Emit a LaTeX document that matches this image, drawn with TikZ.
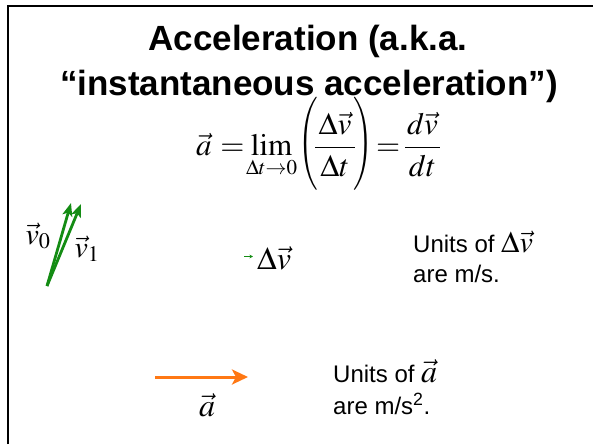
\documentclass[tikz,border=0pt]{standalone}
\usepackage{mathptmx}
\usepackage[no-math]{fontspec}
\newfontfamily\arial{Liberation Sans}
\usetikzlibrary{arrows.meta}
\definecolor{vgreen}{RGB}{20,140,20}
\definecolor{aorange}{RGB}{255,120,20}
\newcommand{\tallstrut}{\rule[-32pt]{0pt}{80pt}}
\newcommand{\lparen}{\raisebox{3pt}{\scalebox{0.8}[1]{$\left(\tallstrut\right.$}}}
\newcommand{\rparen}{\raisebox{3pt}{\scalebox{0.8}[1]{$\left.\tallstrut\right)$}}}
\begin{document}
\begin{tikzpicture}[x=1pt,y=-1pt,
  titletext/.style={anchor=base,inner sep=0pt,font=\arial\bfseries\fontsize{35}{40}\selectfont},
  bodytext/.style={anchor=base west,inner sep=0pt,font=\arial\fontsize{24}{28}\selectfont},
  mathtext/.style={inner sep=0pt,font=\fontsize{30}{34}\selectfont},
  garrow/.style={draw=vgreen,line width=2.8pt,-{Stealth[length=13pt,width=10pt,inset=3pt]}},
  smallgarrow/.style={draw=vgreen,line width=1pt,-{Stealth[length=3.5pt,width=3.5pt]}},
  oarrow/.style={draw=aorange,line width=3pt,-{Stealth[length=16pt,width=15pt,inset=4pt]}}]
\useasboundingbox (0,0) rectangle (593,444);
\draw[line width=2.5pt] (8,444) -- (8,6) -- (593,6);
\node[titletext] (t1) at (308,50) {Acceleration (a.k.a.};
\node[titletext] (t2) at (309,95) {“instantaneous acceleration”)};
\node[inner sep=0pt,anchor=base west,font=\fontsize{31}{34}\selectfont] (eq) at (196,155)
  {\nulldelimiterspace=0pt\delimiterfactor=1000\delimitershortfall=0pt%
   $\displaystyle \vec a\mskip5mu{=}\mskip1mu{\lim\limits_{\hbox{\fontsize{21}{23}\selectfont$\Delta t{\to}0$}}}%
   \mskip1mu{\lparen}\mskip-2mu\frac{\mskip2mu\Delta\vec v\mskip2mu}{\Delta t}\mskip-1mu{\rparen}%
   \mskip2mu{=}\mskip3mu\frac{\mskip1mu d\vec v\mskip1mu}{dt}$};
% velocity vectors
\coordinate (o) at (47,286);
\coordinate (v0tip) at (71,203);
\coordinate (v1tip) at (81,204);
\draw[garrow] (o) -- (v0tip);
\draw[garrow] (o) -- (v1tip);
\node[mathtext] (v0) at (38,236) {$\vec v_0$};
\node[mathtext] (v1) at (87,249) {$\vec v_1$};
% delta v
\coordinate (dvs) at (244,256.5);
\coordinate (dve) at (253,256.5);
\draw[smallgarrow] (dvs) -- (dve);
\node[mathtext,anchor=west,font=\fontsize{32}{36}\selectfont] (dv) at (257,258) {$\Delta\vec v$};
\node[bodytext] (u1) at (413,252) {Units of {\fontsize{30}{34}\selectfont$\Delta\vec v$}};
\node[bodytext] (u2) at (413,282) {are m/s.};
% acceleration
\coordinate (as) at (155,377);
\coordinate (ae) at (248,377);
\draw[oarrow] (as) -- (ae);
\node[mathtext,font=\fontsize{32}{36}\selectfont] (al) at (207,405) {$\vec a$};
\node[bodytext] (u3) at (333,382) {Units of {\fontsize{32}{36}\selectfont$\vec a$}};
\node[bodytext] (u4) at (333,414) {are m/s\textsuperscript{2}.};
\end{tikzpicture}
\end{document}
